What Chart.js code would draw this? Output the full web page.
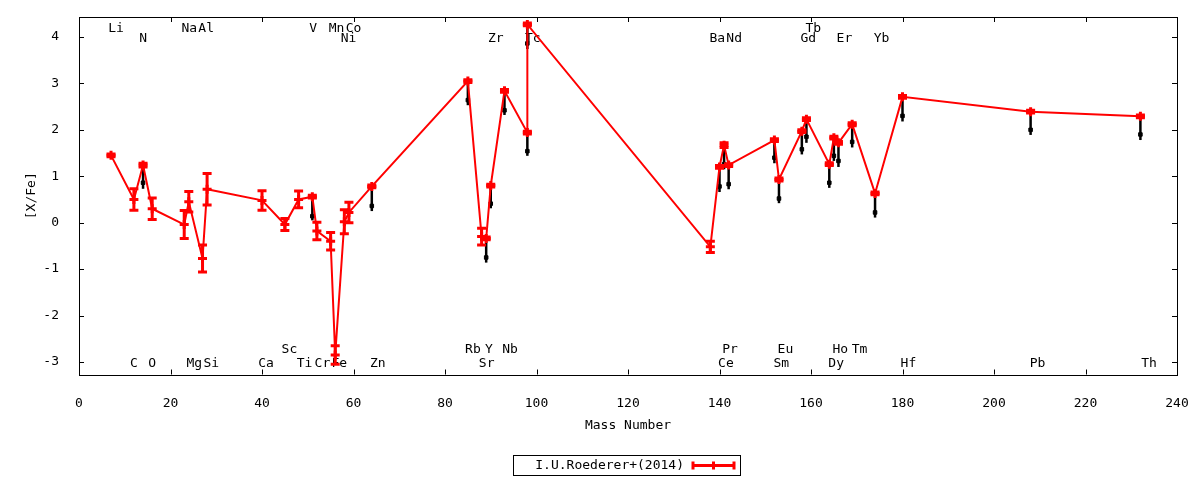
<!DOCTYPE html>
<html>
<head>
<meta charset="utf-8">
<script src="https://cdn.jsdelivr.net/npm/chart.js@4.4.1/dist/chart.umd.min.js"></script>
<style>
  html, body { margin: 0; padding: 0; background: #fff; }
  #wrap { width: 1200px; height: 480px; position: relative; }
</style>
</head>
<body>
<div id="wrap"><canvas id="myChart"></canvas></div>
<script>
//red series, I.U.Roederer+(2014)
var redMass = [7, 12, 14, 16, 23, 24, 27, 28, 40, 45, 48, 51, 52, 55, 56, 58, 59, 64,
  85, 88, 89, 90, 93, 98, 98, 138, 140, 141, 142, 152, 153, 158, 159, 164, 165, 166,
  169, 174, 180, 208, 232];
var redVal = [1.45, 0.50, 1.24, 0.30, -0.04, 0.45, -0.77, 0.72, 0.48, -0.04, 0.50, 0.56,
  -0.18, -0.40, -2.85, 0.02, 0.22, 0.78, 3.05, -0.30, -0.34, 0.80, 2.84, 1.94, 4.27,
  -0.52, 1.20, 1.67, 1.24, 1.78, 0.93, 1.97, 2.23, 1.26, 1.83, 1.72, 2.12, 0.63, 2.71,
  2.39, 2.29];
var redErr = [0.03, 0.23, 0.04, 0.23, 0.30, 0.22, 0.29, 0.34, 0.21, 0.13, 0.18, 0.03,
  0.19, 0.19, 0.20, 0.26, 0.22, 0.03, 0.03, 0.18, 0.03, 0.03, 0.03, 0.03, 0.03,
  0.12, 0.03, 0.05, 0.03, 0.03, 0.03, 0.03, 0.03, 0.03, 0.03, 0.03, 0.03, 0.03, 0.03,
  0.03, 0.03];

//black marks (line from top down to low, square at val)
var blackMass = [14, 51, 64, 85, 89, 90, 93, 98, 98, 140, 141, 142, 152, 153, 158, 159,
  164, 165, 166, 169, 174, 180, 208, 232];
var blackTop = [1.24, 0.56, 0.78, 3.05, -0.34, 0.80, 2.84, 4.27, 1.94, 1.20, 1.67, 1.24,
  1.78, 0.93, 1.97, 2.23, 1.26, 1.83, 1.72, 2.12, 0.63, 2.71, 2.39, 2.29];
var blackVal = [0.86, 0.14, 0.36, 2.64, -0.75, 0.41, 2.42, 3.86, 1.54, 0.78, 1.26, 0.83,
  1.40, 0.52, 1.58, 1.85, 0.86, 1.44, 1.33, 1.74, 0.22, 2.30, 2.00, 1.90];
var blackLow = [0.73, 0.05, 0.25, 2.53, -0.86, 0.31, 2.32, 3.74, 1.44, 0.66, 1.15, 0.72,
  1.28, 0.42, 1.47, 1.72, 0.75, 1.33, 1.20, 1.62, 0.11, 2.18, 1.89, 1.78];

//axes
var xTicks = [0, 20, 40, 60, 80, 100, 120, 140, 160, 180, 200, 220, 240];
var yTicks = [-3, -2, -1, 0, 1, 2, 3, 4];

//element names along top and bottom
var elemName = ["Li", "Na", "Al", "V", "Mn", "Co", "Tb",
  "N", "Ni", "Zr", "Tc", "Ba", "Nd", "Gd", "Er", "Yb",
  "C", "O", "Mg", "Si", "Ca", "Ti", "Cr", "Fe", "Zn", "Sr", "Ce", "Sm", "Dy", "Hf", "Pb", "Th",
  "Sc", "Rb", "Y", "Nb", "Pr", "Eu", "Ho", "Tm"];
var elemX = [8.1, 24.1, 27.8, 51.2, 56.3, 60.0, 160.5,
  14.0, 58.9, 91.1, 99.2, 139.5, 143.2, 159.4, 167.3, 175.4,
  12.0, 16.0, 25.2, 28.9, 40.9, 49.3, 53.2, 56.9, 65.3, 89.1, 141.4, 153.5, 165.5, 181.3, 209.5, 233.9,
  46.0, 86.1, 89.6, 94.2, 142.3, 154.4, 166.4, 170.6];
var elemY = [4.18, 4.18, 4.18, 4.18, 4.18, 4.18, 4.18,
  3.97, 3.97, 3.97, 3.97, 3.97, 3.97, 3.97, 3.97, 3.97,
  -3.04, -3.04, -3.04, -3.04, -3.04, -3.04, -3.04, -3.04, -3.04, -3.04, -3.04, -3.04, -3.04, -3.04, -3.04, -3.04,
  -2.74, -2.74, -2.74, -2.74, -2.74, -2.74, -2.74, -2.74];

var FONT = "13px 'DejaVu Sans Mono', monospace";
var RED = "rgb(255, 0, 0)";

const gnuPlugin = {
  id: "gnu",
  beforeDatasetsDraw(chart) {
    const ctx = chart.ctx, x = chart.scales.x, y = chart.scales.y;
    ctx.save();
    //element labels
    ctx.font = FONT;
    ctx.fillStyle = "#000";
    ctx.textAlign = "center";
    ctx.textBaseline = "middle";
    for (var i = 0; i < elemName.length; i++) {
      ctx.fillText(elemName[i], x.getPixelForValue(elemX[i]), y.getPixelForValue(elemY[i]));
    }
    //black lines
    ctx.strokeStyle = "#000";
    ctx.lineWidth = 2.5;
    for (var j = 0; j < blackMass.length; j++) {
      var px = x.getPixelForValue(blackMass[j]);
      ctx.beginPath();
      ctx.moveTo(px, y.getPixelForValue(blackTop[j]));
      ctx.lineTo(px, y.getPixelForValue(blackLow[j]));
      ctx.stroke();
    }
    ctx.restore();
  },
  afterDatasetsDraw(chart) {
    const ctx = chart.ctx, x = chart.scales.x, y = chart.scales.y;
    const a = chart.chartArea;
    ctx.save();
    //red error bars
    ctx.strokeStyle = RED;
    ctx.lineWidth = 3;
    for (var i = 0; i < redMass.length; i++) {
      var px = x.getPixelForValue(redMass[i]);
      var hi = y.getPixelForValue(redVal[i] + redErr[i]);
      var lo = y.getPixelForValue(redVal[i] - redErr[i]);
      ctx.beginPath();
      ctx.moveTo(px, hi); ctx.lineTo(px, lo);
      ctx.moveTo(px - 4.5, hi); ctx.lineTo(px + 4.5, hi);
      ctx.moveTo(px - 4.5, lo); ctx.lineTo(px + 4.5, lo);
      ctx.stroke();
    }
    //frame and inward ticks
    ctx.strokeStyle = "#000";
    ctx.lineWidth = 1;
    ctx.strokeRect(Math.round(a.left) + 0.5, Math.round(a.top) + 0.5,
      Math.round(a.right - a.left), Math.round(a.bottom - a.top));
    ctx.beginPath();
    xTicks.forEach(function (t) {
      var p = Math.round(x.getPixelForValue(t)) + 0.5;
      ctx.moveTo(p, a.bottom); ctx.lineTo(p, a.bottom - 5);
      ctx.moveTo(p, a.top); ctx.lineTo(p, a.top + 5);
    });
    yTicks.forEach(function (t) {
      var p = Math.round(y.getPixelForValue(t)) + 0.5;
      ctx.moveTo(a.left, p); ctx.lineTo(a.left + 5, p);
      ctx.moveTo(a.right, p); ctx.lineTo(a.right - 5, p);
    });
    ctx.stroke();
    //legend box
    ctx.strokeRect(513.5, 455.5, 227, 20);
    ctx.font = FONT;
    ctx.fillStyle = "#000";
    ctx.textAlign = "right";
    ctx.textBaseline = "middle";
    ctx.fillText("I.U.Roederer+(2014)", 684, 466);
    ctx.strokeStyle = RED;
    ctx.lineWidth = 3;
    ctx.beginPath();
    ctx.moveTo(692, 465.5); ctx.lineTo(735, 465.5);
    ctx.moveTo(693, 461.5); ctx.lineTo(693, 469.5);
    ctx.moveTo(713.5, 461.5); ctx.lineTo(713.5, 469.5);
    ctx.moveTo(734, 461.5); ctx.lineTo(734, 469.5);
    ctx.stroke();
    ctx.restore();
  }
};

const config = {
  type: "line",
  data: {
    datasets: [
      {
        label: "I.U.Roederer+(2014)",
        data: redMass.map(function (m, i) { return { x: m, y: redVal[i] }; }),
        borderColor: RED,
        backgroundColor: RED,
        borderWidth: 2,
        pointStyle: "cross",
        pointRadius: 4.5,
        pointBorderWidth: 3,
        pointBorderColor: RED,
        tension: 0,
      },
      {
        label: "",
        data: blackMass.map(function (m, i) { return { x: m, y: blackVal[i] }; }),
        showLine: false,
        pointStyle: "rect",
        pointRadius: 2.5,
        pointBorderWidth: 1,
        pointBackgroundColor: "#000",
        pointBorderColor: "#000",
      },
    ],
  },
  options: {
    responsive: true,
    maintainAspectRatio: false,
    animation: false,
    layout: { padding: { top: 17, right: 23, left: 0, bottom: 0 } },
    plugins: { legend: { display: false }, tooltip: { enabled: false } },
    scales: {
      x: {
        type: "linear",
        min: 0,
        max: 240,
        grid: { display: false },
        border: { display: false },
        afterBuildTicks: function (s) { s.ticks = xTicks.map(function (v) { return { value: v }; }); },
        afterFit: function (s) { s.height = 105.5; s.paddingLeft = 0; s.paddingRight = 0; },
        ticks: { color: "#000", font: { family: "'DejaVu Sans Mono', monospace", size: 13 }, padding: 13, maxRotation: 0 },
        title: {
          display: true,
          text: "Mass Number",
          color: "#000",
          font: { family: "'DejaVu Sans Mono', monospace", size: 13 },
          padding: { top: 0, bottom: 47 },
        },
      },
      y: {
        type: "linear",
        min: -3.27,
        max: 4.43,
        grid: { display: false },
        border: { display: false },
        afterBuildTicks: function (s) { s.ticks = yTicks.map(function (v) { return { value: v }; }); },
        afterFit: function (s) { s.width = 79; s.paddingTop = 0; s.paddingBottom = 0; },
        ticks: { color: "#000", font: { family: "'DejaVu Sans Mono', monospace", size: 13 }, padding: 12 },
        title: {
          display: true,
          text: "[X/Fe]",
          color: "#000",
          font: { family: "'DejaVu Sans Mono', monospace", size: 13 },
          padding: { top: 24, bottom: 0 },
        },
      },
    },
  },
  plugins: [gnuPlugin],
};

const myChart = new Chart(document.getElementById("myChart"), config);
</script>
</body>
</html>
